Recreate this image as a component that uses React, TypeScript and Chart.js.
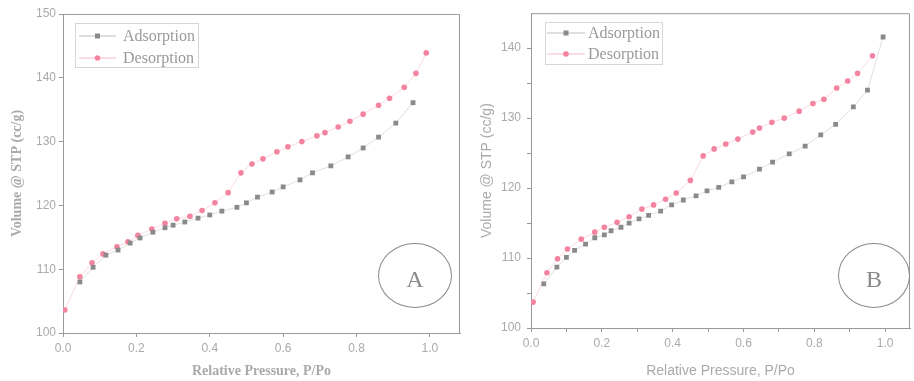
import React, { useEffect, useRef } from "react";
import { Chart, registerables } from "chart.js";

Chart.register(...registerables);

// ---------- Data: chart A ----------
const adsA_P = [0.046, 0.082, 0.117, 0.15, 0.183, 0.21, 0.245, 0.278, 0.3, 0.332, 0.368, 0.4, 0.433, 0.474, 0.5, 0.53, 0.57, 0.6, 0.646, 0.68, 0.73, 0.777, 0.818, 0.86, 0.907, 0.954];
const adsA_V = [108.0, 110.3, 112.2, 113.0, 114.1, 114.9, 115.8, 116.5, 116.9, 117.4, 118.0, 118.5, 119.1, 119.7, 120.4, 121.3, 122.1, 122.9, 124.0, 125.1, 126.2, 127.6, 129.0, 130.7, 132.9, 136.1];
const desA_P = [0.005, 0.046, 0.079, 0.109, 0.147, 0.177, 0.204, 0.242, 0.278, 0.31, 0.346, 0.379, 0.414, 0.45, 0.485, 0.515, 0.545, 0.583, 0.613, 0.651, 0.692, 0.714, 0.75, 0.782, 0.818, 0.86, 0.89, 0.93, 0.962, 0.99];
const desA_V = [103.6, 108.8, 111.0, 112.4, 113.5, 114.3, 115.3, 116.3, 117.2, 117.9, 118.3, 119.2, 120.4, 122.0, 125.1, 126.5, 127.3, 128.4, 129.2, 130.0, 130.9, 131.4, 132.3, 133.2, 134.3, 135.7, 136.8, 138.5, 140.7, 143.9];

// ---------- Data: chart B ----------
const adsB_P = [0.036, 0.073, 0.1, 0.123, 0.154, 0.18, 0.207, 0.226, 0.254, 0.277, 0.305, 0.332, 0.366, 0.397, 0.43, 0.466, 0.497, 0.53, 0.567, 0.6, 0.645, 0.682, 0.729, 0.774, 0.818, 0.86, 0.91, 0.95, 0.994];
const adsB_V = [106.3, 108.7, 110.1, 111.1, 112.0, 112.9, 113.3, 113.9, 114.4, 115.0, 115.6, 116.1, 116.7, 117.6, 118.3, 118.9, 119.6, 120.1, 120.9, 121.6, 122.7, 123.7, 124.9, 126.0, 127.6, 129.1, 131.6, 134.0, 141.6];
const desB_P = [0.006, 0.045, 0.075, 0.103, 0.142, 0.18, 0.207, 0.243, 0.277, 0.313, 0.346, 0.38, 0.41, 0.45, 0.486, 0.517, 0.55, 0.584, 0.626, 0.645, 0.68, 0.715, 0.757, 0.796, 0.827, 0.863, 0.894, 0.922, 0.964];
const desB_V = [103.7, 107.9, 109.9, 111.3, 112.7, 113.7, 114.4, 115.1, 115.9, 117.0, 117.6, 118.4, 119.3, 121.1, 124.6, 125.6, 126.3, 127.0, 128.0, 128.6, 129.4, 130.0, 131.0, 132.1, 132.7, 134.3, 135.3, 136.4, 138.9];

// ---------- Ticks ----------
const xTicksA = [0, 0.2, 0.4, 0.6, 0.8, 1.0];
const yTicksA = [100, 110, 120, 130, 140, 150];
const xTicksB = [0, 0.1, 0.2, 0.3, 0.4, 0.5, 0.6, 0.7, 0.8, 0.9, 1.0];
const yTicksB = [100, 105, 110, 115, 120, 125, 130, 135, 140];
const xLabelsB = [0, 0.2, 0.4, 0.6, 0.8, 1.0];
const yLabelsB = [100, 110, 120, 130, 140];

const seriesNames = ["Adsorption", "Desorption"];
const xTitle = "Relative Pressure, P/Po";
const yTitle = "Volume @ STP (cc/g)";

const GRAY = "#8a8a8a";
const PINK = "#f3839f";
const AXIS = "#9a9a9a";
const TXT = "#aaaaaa";

const pts = (xs: number[], ys: number[]) => xs.map((x, i) => ({ x, y: ys[i] }));

const framePlugin = {
  id: "frame",
  afterDraw(chart: any) {
    const { ctx, chartArea } = chart;
    ctx.save();
    ctx.strokeStyle = AXIS;
    ctx.lineWidth = 1;
    ctx.beginPath();
    ctx.moveTo(chartArea.left, chartArea.top + 0.5);
    ctx.lineTo(chartArea.right - 0.5, chartArea.top + 0.5);
    ctx.lineTo(chartArea.right - 0.5, chartArea.bottom);
    ctx.stroke();
    ctx.restore();
  },
};

function makeConfig(opts: any) {
  const isSerif = opts.serif;
  const titleFont = isSerif
    ? { family: "'Liberation Serif', 'Times New Roman', serif", size: 14, weight: "bold" }
    : { family: "'Liberation Sans', Arial, sans-serif", size: 14, weight: "normal" };
  return {
    type: "scatter",
    data: {
      datasets: [
        {
          label: seriesNames[0],
          data: pts(opts.adsP, opts.adsV),
          showLine: true,
          borderColor: "rgba(140,140,140,0.28)",
          borderWidth: 1,
          pointStyle: "rect",
          pointRadius: 3.4,
          pointBackgroundColor: GRAY,
          pointBorderColor: GRAY,
          pointBorderWidth: 0,
        },
        {
          label: seriesNames[1],
          data: pts(opts.desP, opts.desV),
          showLine: true,
          borderColor: "rgba(242,128,159,0.3)",
          borderWidth: 1,
          pointStyle: "circle",
          pointRadius: 2.8,
          pointBackgroundColor: PINK,
          pointBorderColor: PINK,
          pointBorderWidth: 0,
        },
      ],
    },
    options: {
      animation: false,
      responsive: false,
      devicePixelRatio: 1,
      layout: { padding: opts.padding },
      plugins: { legend: { display: false }, tooltip: { enabled: false } },
      scales: {
        x: {
          type: "linear",
          min: 0,
          max: opts.xMax,
          afterFit: (s: any) => { s.height = opts.xAxisH; },
          afterBuildTicks: (s: any) => { s.ticks = opts.xTicks.map((v: number) => ({ value: v })); },
          grid: { drawOnChartArea: false, drawTicks: true, tickLength: 4, color: AXIS },
          border: { display: true, color: AXIS, width: 1 },
          ticks: {
            color: TXT,
            padding: 4,
            maxRotation: 0,
            autoSkip: false,
            font: { family: "'Liberation Sans', Arial, sans-serif", size: 12 },
            callback: (v: number) =>
              opts.xLabels.some((l: number) => Math.abs(l - v) < 1e-6) ? v.toFixed(1) : "",
          },
          title: { display: true, text: xTitle, color: TXT, font: titleFont, padding: { top: 0, bottom: opts.xTitlePad } },
        },
        y: {
          type: "linear",
          min: 100,
          max: opts.yMax,
          afterFit: (s: any) => { s.width = opts.yAxisW; },
          afterBuildTicks: (s: any) => { s.ticks = opts.yTicks.map((v: number) => ({ value: v })); },
          grid: { drawOnChartArea: false, drawTicks: true, tickLength: 4, color: AXIS },
          border: { display: true, color: AXIS, width: 1 },
          ticks: {
            color: TXT,
            padding: opts.yTickPad,
            autoSkip: false,
            font: { family: "'Liberation Sans', Arial, sans-serif", size: 12 },
            callback: (v: number) =>
              opts.yLabels.some((l: number) => Math.abs(l - v) < 1e-6) ? String(v) : "",
          },
          title: { display: true, text: yTitle, color: TXT, font: titleFont, padding: { top: opts.yTitlePad, bottom: 0 } },
        },
      },
    },
    plugins: [framePlugin],
  } as any;
}

function ChartCanvas({ left, width, config }: any) {
  const ref = useRef<HTMLCanvasElement | null>(null);
  useEffect(() => {
    if (!ref.current) return;
    const c = new Chart(ref.current, config);
    return () => c.destroy();
  }, []);
  return (
    <canvas
      ref={ref}
      width={width}
      height={381}
      style={{ position: "absolute", left, top: 0, width, height: 381 }}
    />
  );
}

function Legend({ left, top, width, height, lineX1, lineX2, textX, rows }: any) {
  return (
    <div
      style={{
        position: "absolute",
        left,
        top,
        width,
        height,
        border: "1px solid #d6d6d6",
        boxSizing: "border-box",
      }}
    >
      <svg width={width} height={height} style={{ position: "absolute", left: -1, top: -1 }}>
        {seriesNames.map((name, i) => {
          const col = i === 0 ? GRAY : PINK;
          const lineCol = i === 0 ? "rgba(140,140,140,0.55)" : "rgba(242,128,159,0.55)";
          const cy = rows[i];
          const mx = (lineX1 + lineX2) / 2;
          return (
            <g key={name}>
              <line x1={lineX1} y1={cy} x2={lineX2} y2={cy} stroke={lineCol} strokeWidth={1} />
              {i === 0 ? (
                <rect x={mx - 2.5} y={cy - 2.5} width={5} height={5} fill={col} />
              ) : (
                <circle cx={mx} cy={cy} r={2.8} fill={col} />
              )}
            </g>
          );
        })}
      </svg>
      {seriesNames.map((name, i) => (
        <div
          key={name}
          style={{
            position: "absolute",
            left: textX - 1,
            top: rows[i] - 1 - 10,
            height: 20,
            lineHeight: "20px",
            fontFamily: "'Liberation Serif', 'Times New Roman', serif",
            fontSize: 16,
            color: "#9a9a9a",
            whiteSpace: "nowrap",
          }}
        >
          {name}
        </div>
      ))}
    </div>
  );
}

function Badge({ left, top, width, height, letter }: any) {
  return (
    <div
      style={{
        position: "absolute",
        left,
        top,
        width,
        height,
        border: "1.3px solid #8a8a8a",
        borderRadius: "50%",
        boxSizing: "border-box",
        display: "flex",
        alignItems: "center",
        justifyContent: "center",
        fontFamily: "'Liberation Serif', 'Times New Roman', serif",
        fontSize: 24,
        color: "#8a8a8a",
        paddingTop: 8,
      }}
    >
      {letter}
    </div>
  );
}

export default function App() {
  useEffect(() => {
    document.body.style.margin = "0";
  }, []);

  const configA = makeConfig({
    serif: true,
    adsP: adsA_P, adsV: adsA_V, desP: desA_P, desV: desA_V,
    xMax: 1.082, yMax: 150,
    xTicks: xTicksA, yTicks: yTicksA, xLabels: xTicksA, yLabels: yTicksA,
    padding: { left: 0, top: 14, right: 6, bottom: 0 },
    xAxisH: 48, yAxisW: 63, xTitlePad: 1, yTitlePad: 9, yTickPad: 3,
  });
  const configB = makeConfig({
    serif: false,
    adsP: adsB_P, adsV: adsB_V, desP: desB_P, desV: desB_V,
    xMax: 1.07, yMax: 145,
    xTicks: xTicksB, yTicks: yTicksB, xLabels: xLabelsB, yLabels: yLabelsB,
    padding: { left: 0, top: 13, right: 0, bottom: 0 },
    xAxisH: 53, yAxisW: 69, xTitlePad: 1, yTitlePad: 17, yTickPad: 6,
  });

  return (
    <div style={{ position: "fixed", left: 0, top: 0, width: 914, height: 381, background: "#fff", overflow: "hidden" }}>
      <ChartCanvas left={0} width={466} config={configA} />
      <ChartCanvas left={462} width={452} config={configB} />
      <Legend left={75} top={23} width={124} height={45} lineX1={4} lineX2={41} textX={48} rows={[13, 35]} />
      <Legend left={545} top={22} width={118} height={43} lineX1={2} lineX2={40} textX={43} rows={[11, 32]} />
      <Badge left={378} top={243} width={74} height={65} letter="A" />
      <Badge left={838} top={243} width={72} height={65} letter="B" />
    </div>
  );
}
